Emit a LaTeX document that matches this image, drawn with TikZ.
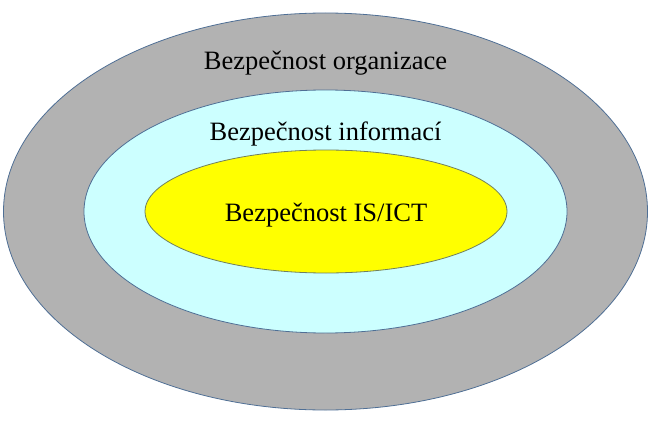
\documentclass[tikz,border=0pt]{standalone}
\usepackage{fontspec}
\setmainfont{Liberation Serif}
\begin{document}
\begin{tikzpicture}[x=1pt,y=-1pt,
  ring/.style={draw=edgec, line width=0.8pt},
  lbl/.style={anchor=base, inner sep=0pt, font=\fontsize{26.5}{30}\selectfont, text=black}]
\definecolor{grayc}{HTML}{B2B2B2}
\definecolor{cyanc}{HTML}{CCFFFF}
\definecolor{yelc}{HTML}{FFFF00}
\definecolor{edgec}{HTML}{4F6F95}
\definecolor{edgey}{HTML}{6F7F5F}
\useasboundingbox (0,0) rectangle (655,425);
\coordinate (c) at (325.5,211.5);
\fill[grayc, ring] (c) ellipse [x radius=322, y radius=198.5];
\fill[cyanc, ring] (c) ellipse [x radius=241.5, y radius=121.5];
\fill[yelc, draw=edgey, line width=0.8pt] (326,211.5) ellipse [x radius=181, y radius=61.5];
\node[lbl] (org) at (325.5,70) {Bezpečnost organizace};
\node[lbl] (inf) at (325.5,140) {Bezpečnost informací};
\node[lbl] (ict) at (326,221) {Bezpečnost IS/ICT};
\end{tikzpicture}
\end{document}
